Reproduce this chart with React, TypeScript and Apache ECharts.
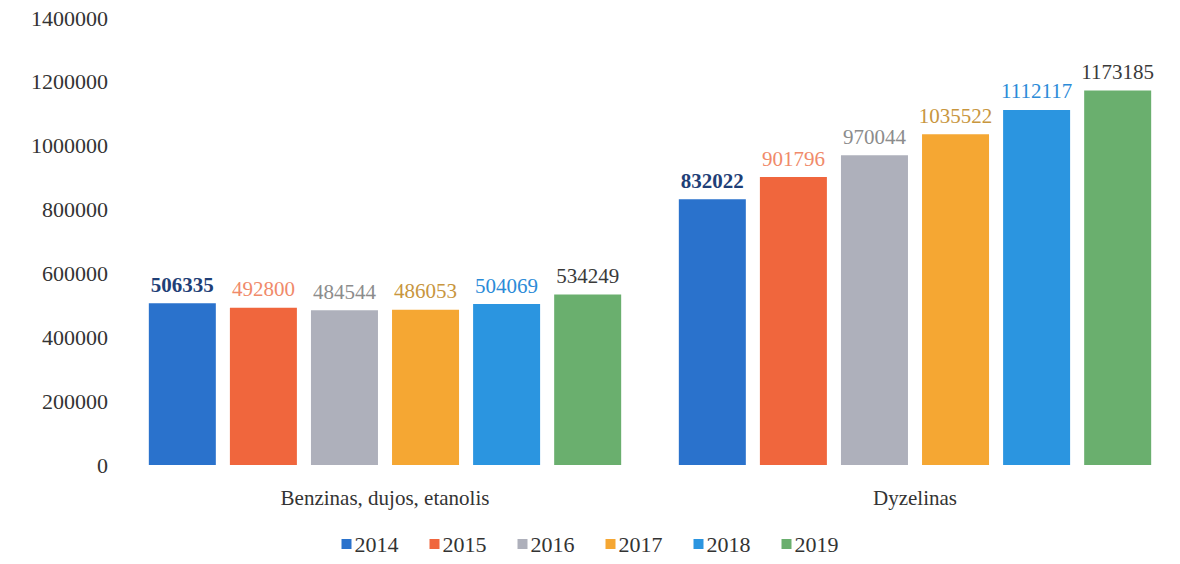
import React, { useEffect, useRef } from "react";
import * as echarts from "echarts";

const categories = ["Benzinas, dujos, etanolis", "Dyzelinas"];
const years = ["2014", "2015", "2016", "2017", "2018", "2019"];
const values2014 = [506335, 832022];
const values2015 = [492800, 901796];
const values2016 = [484544, 970044];
const values2017 = [486053, 1035522];
const values2018 = [504069, 1112117];
const values2019 = [534249, 1173185];
const barColors = ["#2a72cc", "#f0663d", "#aeb0bb", "#f5a733", "#2b95e0", "#6aaf6e"];
const labelColors = ["#1f3f77", "#f08a6a", "#8c8c8c", "#c8963e", "#2b8bd8", "#3a3a3a"];

const FONT = "'Liberation Serif', 'DejaVu Serif', serif";

export default function App() {
  const ref = useRef<HTMLDivElement>(null);
  useEffect(() => {
    if (!ref.current) return;
    const chart = echarts.init(ref.current, null, { renderer: "svg" });
    const allValues = [values2014, values2015, values2016, values2017, values2018, values2019];
    chart.setOption({
      animation: false,
      backgroundColor: "#ffffff",
      textStyle: { fontFamily: FONT },
      grid: { left: 120, right: -5, top: 18, bottom: 99 },
      legend: {
        bottom: 4,
        left: "center",
        itemWidth: 10,
        itemHeight: 10,
        itemGap: 31,
        icon: "rect",
        textStyle: { fontFamily: FONT, fontSize: 22, color: "#333", padding: [0, 0, 0, -2] },
        data: years,
      },
      xAxis: {
        type: "category",
        data: categories,
        axisLine: { show: false },
        axisTick: { show: false },
        axisLabel: { fontFamily: FONT, fontSize: 21, color: "#333", margin: 22 },
      },
      yAxis: {
        type: "value",
        min: 0,
        max: 1400000,
        interval: 200000,
        splitLine: { show: false },
        axisLine: { show: false },
        axisTick: { show: false },
        axisLabel: {
          fontFamily: FONT,
          fontSize: 22,
          color: "#333",
          margin: 12,
          formatter: (v: number) => String(v),
        },
      },
      series: years.map((y, i) => ({
        name: y,
        type: "bar",
        data: allValues[i],
        barWidth: 67,
        barGap: "21%",
        itemStyle: { color: barColors[i] },
        label: {
          show: true,
          position: "top",
          distance: 8,
          fontFamily: FONT,
          fontSize: 21,
          fontWeight: i === 0 ? "bold" : "normal",
          color: labelColors[i],
        },
      })),
    });
    return () => chart.dispose();
  }, []);
  return (
    <div
      ref={ref}
      style={{ position: "absolute", left: 0, top: 0, width: 1180, height: 564 }}
    />
  );
}
